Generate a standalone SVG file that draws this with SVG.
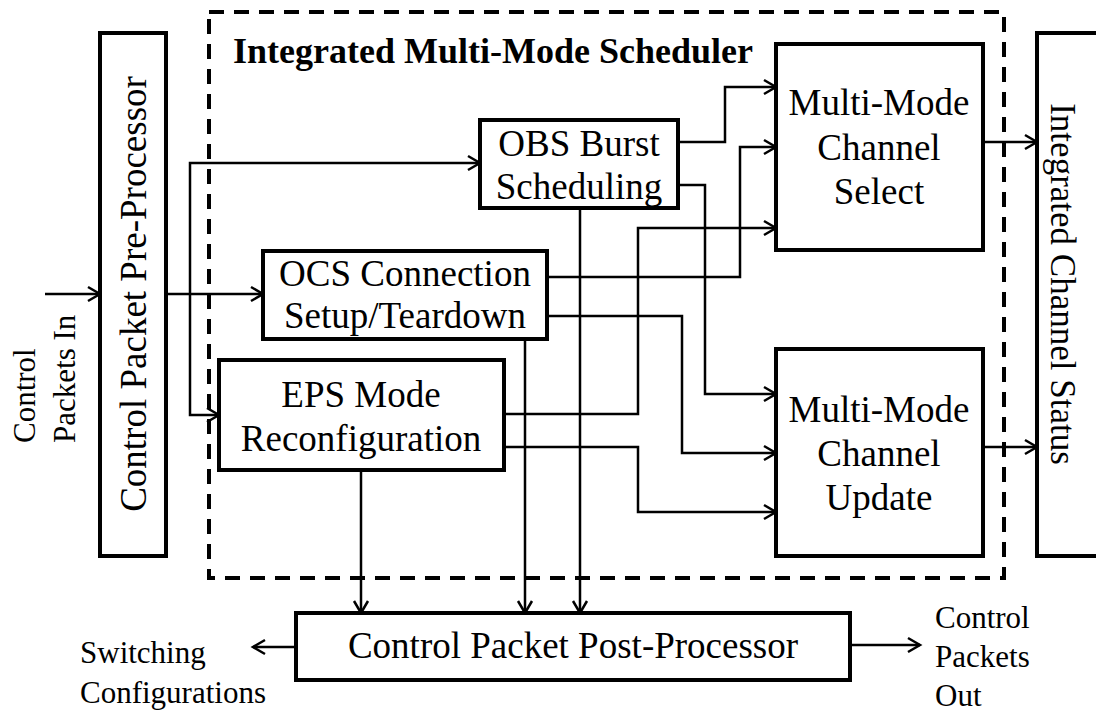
<svg xmlns="http://www.w3.org/2000/svg" width="1096" height="713" viewBox="0 0 1096 713">
<defs>
<marker id="arr" markerUnits="userSpaceOnUse" markerWidth="20" markerHeight="20" viewBox="-14 -10 16 20" refX="0" refY="0" orient="auto">
<path d="M-12,-7 L0,0 L-12,7" fill="none" stroke="#000" stroke-width="2.5"/>
</marker>
</defs>
<style>
.box{fill:#fff;stroke:#000;stroke-width:4}
.t{font-family:"Liberation Serif","Times New Roman",serif;font-size:37px;fill:#000;text-anchor:middle}
.s{font-family:"Liberation Serif","Times New Roman",serif;font-size:31px;fill:#000}
.c{fill:none;stroke:#000;stroke-width:2.5;marker-end:url(#arr)}
</style>
<rect width="1096" height="713" fill="#fff"/>
<g id="scheduler">
<rect x="209" y="12" width="795" height="566" fill="none" stroke="#000" stroke-width="4" stroke-dasharray="15,10"/>
<text x="233" y="63" style="font-family:'Liberation Serif','Times New Roman',serif;font-size:36px;font-weight:bold">Integrated Multi-Mode Scheduler</text>
</g>
<g id="connectors">
<path class="c" d="M45,294 H100"/>
<path class="c" d="M166,294 H263"/>
<path class="c" d="M190,294 V163 H480"/>
<path class="c" d="M190,294 V415 H219"/>
<path class="c" d="M678,142 H725 V87 H776"/>
<path class="c" d="M678,185 H705 V394 H776"/>
<path class="c" d="M580,208 V613"/>
<path class="c" d="M547,277 H740 V147 H776"/>
<path class="c" d="M547,316 H682 V453 H776"/>
<path class="c" d="M525,339 V613"/>
<path class="c" d="M504,414 H638 V228 H776"/>
<path class="c" d="M504,447 H638 V512 H776"/>
<path class="c" d="M361,470 V613"/>
<path class="c" d="M983,142 H1037"/>
<path class="c" d="M983,447 H1037"/>
<path class="c" d="M296,647 H253"/>
<path class="c" d="M850,645 H920"/>
</g>
<g id="preprocessor">
<rect class="box" x="100" y="33" width="66" height="523"/>
<text class="t" transform="translate(146,294) rotate(-90)">Control Packet Pre-Processor</text>
</g>
<g id="obs">
<rect class="box" x="480" y="120" width="198" height="88"/>
<text class="t" x="579" y="156">OBS Burst</text>
<text class="t" x="579" y="199">Scheduling</text>
</g>
<g id="ocs">
<rect class="box" x="263" y="251" width="284" height="88"/>
<text class="t" x="405" y="286">OCS Connection</text>
<text class="t" x="405" y="328">Setup/Teardown</text>
</g>
<g id="eps">
<rect class="box" x="219" y="360" width="285" height="110"/>
<text class="t" x="361" y="407">EPS Mode</text>
<text class="t" x="361" y="451">Reconfiguration</text>
</g>
<g id="select">
<rect class="box" x="776" y="44" width="207" height="206"/>
<text class="t" x="879" y="115">Multi-Mode</text>
<text class="t" x="879" y="160">Channel</text>
<text class="t" x="879" y="204">Select</text>
</g>
<g id="update">
<rect class="box" x="776" y="349" width="207" height="207"/>
<text class="t" x="879" y="422">Multi-Mode</text>
<text class="t" x="879" y="466">Channel</text>
<text class="t" x="879" y="510">Update</text>
</g>
<g id="status">
<rect class="box" x="1037" y="33" width="80" height="523"/>
<text class="t" style="font-size:35px" transform="translate(1051,284) rotate(90)">Integrated Channel Status</text>
</g>
<g id="postprocessor">
<rect class="box" x="296" y="613" width="554" height="67"/>
<text class="t" x="573" y="658">Control Packet Post-Processor</text>
</g>
<g id="labels">
<text class="s" transform="translate(35,443) rotate(-90)">Control</text>
<text class="s" transform="translate(75,443) rotate(-90)">Packets In</text>
<text class="s" x="80" y="663">Switching</text>
<text class="s" x="80" y="703">Configurations</text>
<text class="s" x="935" y="628">Control</text>
<text class="s" x="935" y="667">Packets</text>
<text class="s" x="935" y="706">Out</text>
</g>
</svg>
